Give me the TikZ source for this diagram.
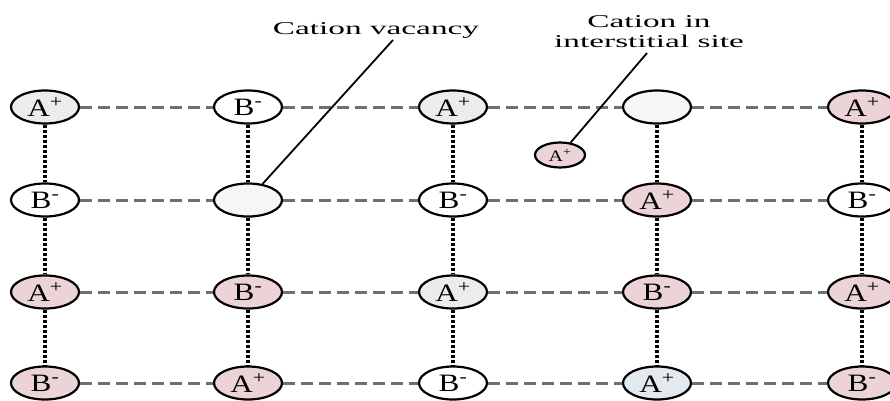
\documentclass[tikz,border=0pt]{standalone}
\usepackage{fontspec}
\setmainfont{Liberation Serif}
\newfontfamily\ionfont{Liberation Serif}[FakeStretch=1.25]
\newfontfamily\notefont{Liberation Serif}[FakeStretch=1.85]
\usetikzlibrary{shapes.geometric}

\definecolor{ionpink}{RGB}{236,212,214}
\definecolor{iongray}{RGB}{236,236,236}
\definecolor{ionblue}{RGB}{226,233,239}
\definecolor{holefill}{RGB}{246,246,246}
\definecolor{bondgray}{RGB}{112,112,112}

\begin{document}
\begin{tikzpicture}[x=1pt,y=1pt,
    ion/.style={ellipse, draw=black, line width=2.2pt, minimum width=68pt,
      minimum height=33pt, inner sep=0pt, fill=white,
      font=\ionfont\fontsize{25}{25}\selectfont},
    hbond/.style={draw=bondgray, line width=3pt, dash pattern=on 12pt off 6pt},
    vbond/.style={draw=black, line width=3.4pt, dash pattern=on 3pt off 2pt},
    note/.style={font=\notefont\fontsize{18}{20}\selectfont, align=center},
    pointer/.style={draw=black, line width=1.8pt}]
  \useasboundingbox (0,0) rectangle (890,400);

  \def\xa{45}  % column a
  \def\xb{248} % column b
  \def\xc{453} % column c
  \def\xd{657} % column d
  \def\xe{862} % column e

  % row 1
  \node[ion, fill=iongray] (a1) at (\xa,293) {A\textsuperscript{+}};
  \node[ion] (b1) at (\xb,293) {B\textsuperscript{-}};
  \node[ion, fill=iongray] (c1) at (\xc,293) {A\textsuperscript{+}};
  \node[ion, fill=holefill] (d1) at (\xd,293) {};
  \node[ion, fill=ionpink] (e1) at (\xe,293) {A\textsuperscript{+}};

  % row 2
  \node[ion] (a2) at (\xa,200) {B\textsuperscript{-}};
  \node[ion, fill=holefill] (b2) at (\xb,200) {};
  \node[ion] (c2) at (\xc,200) {B\textsuperscript{-}};
  \node[ion, fill=ionpink] (d2) at (\xd,200) {A\textsuperscript{+}};
  \node[ion] (e2) at (\xe,200) {B\textsuperscript{-}};

  % row 3
  \node[ion, fill=ionpink] (a3) at (\xa,108) {A\textsuperscript{+}};
  \node[ion, fill=ionpink] (b3) at (\xb,108) {B\textsuperscript{-}};
  \node[ion, fill=iongray] (c3) at (\xc,108) {A\textsuperscript{+}};
  \node[ion, fill=ionpink] (d3) at (\xd,108) {B\textsuperscript{-}};
  \node[ion, fill=ionpink] (e3) at (\xe,108) {A\textsuperscript{+}};

  % row 4
  \node[ion, fill=ionpink] (a4) at (\xa,17) {B\textsuperscript{-}};
  \node[ion, fill=ionpink] (b4) at (\xb,17) {A\textsuperscript{+}};
  \node[ion] (c4) at (\xc,17) {B\textsuperscript{-}};
  \node[ion, fill=ionblue] (d4) at (\xd,17) {A\textsuperscript{+}};
  \node[ion, fill=ionpink] (e4) at (\xe,17) {B\textsuperscript{-}};

  % horizontal bonds
  \draw[hbond] (a1) -- (b1) -- (c1) -- (d1) -- (e1);
  \draw[hbond] (a2) -- (b2) -- (c2) -- (d2) -- (e2);
  \draw[hbond] (a3) -- (b3) -- (c3) -- (d3) -- (e3);
  \draw[hbond] (a4) -- (b4) -- (c4) -- (d4) -- (e4);

  % vertical bonds
  \draw[vbond] (a1) -- (a2) -- (a3) -- (a4);
  \draw[vbond] (b1) -- (b2) -- (b3) -- (b4);
  \draw[vbond] (c1) -- (c2) -- (c3) -- (c4);
  \draw[vbond] (d1) -- (d2) -- (d3) -- (d4);
  \draw[vbond] (e1) -- (e2) -- (e3) -- (e4);

  % interstitial cation
  \node[ion, fill=ionpink, minimum width=50pt, minimum height=25pt,
    font=\ionfont\fontsize{16}{16}\selectfont] (ai) at (560,245) {A\textsuperscript{+}};

  % labels
  \node[note] (vac) at (376,370) {Cation vacancy};
  \node[note] (int) at (649,368) {Cation in\\interstitial site};
  \coordinate (VT) at (393,360);
  \coordinate (IT) at (647,347);
  \draw[pointer] (VT) -- (b2);
  \draw[pointer] (IT) -- (ai);
\end{tikzpicture}
\end{document}
